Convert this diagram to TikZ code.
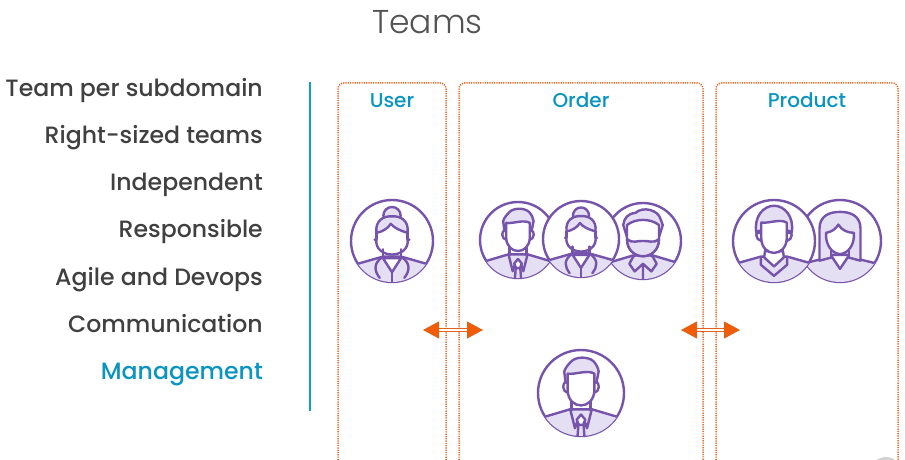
\documentclass[tikz,border=0pt]{standalone}
\usepackage{fontspec}
\setmainfont{Poppins Medium}
\newfontfamily\titlefont{Poppins Light}
\usetikzlibrary{arrows.meta}
\definecolor{tealblue}{HTML}{0A94C2}
\definecolor{barblue}{HTML}{08A0D2}
\definecolor{darktext}{HTML}{404040}
\definecolor{boxorange}{HTML}{E8682A}
\definecolor{arroworange}{HTML}{F25C05}
\definecolor{avline}{HTML}{7654AC}
\definecolor{avfill}{HTML}{E5DFF3}
\tikzset{
  topic/.style={anchor=base east,inner sep=0pt,text=darktext,font=\fontsize{23.6}{26}\selectfont},
  boxtitle/.style={anchor=base,inner sep=0pt,text=tealblue,font=\fontsize{20}{22}\selectfont},
  teambox/.style={draw=boxorange,line width=1.5pt,dash pattern=on 1.2pt off 1.1pt,rounded corners=6pt},
  linkarrow/.style={draw=arroworange!85!gray,line width=1.1pt,double=white,double distance=1.8pt,
    {Triangle[length=16pt,width=17pt,fill=arroworange]}-{Triangle[length=16pt,width=17pt,fill=arroworange]}},
  avstroke/.style={draw=avline,line width=2.4pt,line join=round,line cap=round},
  skin/.style={avstroke,fill=white},
  cloth/.style={avstroke,fill=avfill},
}
% outer ring, then a head on top of it
\newcommand{\avring}{\path[skin] (0,0) circle[radius=1];}
\newcommand{\avbody}[2]{\begin{scope}
    \clip (0,0) circle[radius=1];
    \path[cloth] (-1.1,#1) -- (-#2,.38) -- (#2,.38) -- (1.1,#1) -- (1.1,1.2) -- (-1.1,1.2) -- cycle;
  \end{scope}}
\newcommand{\avears}{
  \draw[avstroke] (-.32,-.25) .. controls (-.46,-.27) and (-.44,-.02) .. (-.3,0);
  \draw[avstroke] (.32,-.25) .. controls (.46,-.27) and (.44,-.02) .. (.3,0);}
\newcommand{\avneck}{\draw[avstroke] (-.22,.2) -- (-.22,.4) (.22,.2) -- (.22,.4);}
\newcommand{\avface}{
  \path[skin] (-.31,-.45) .. controls (-.15,-.42) and (.15,-.55) .. (.31,-.45) -- (.31,-.05)
    .. controls (.3,.17) and (.15,.29) .. (0,.29) .. controls (-.15,.29) and (-.3,.17) .. (-.31,-.05) -- cycle;}
\newcommand{\avhair}{
  \path[cloth] (-.36,-.25) -- (-.39,-.5) .. controls (-.36,-.6) and (-.28,-.68) .. (-.22,-.74)
    .. controls (-.12,-.84) and (.15,-.86) .. (.29,-.74)
    .. controls (.36,-.66) and (.4,-.58) .. (.41,-.5) -- (.36,-.25) -- cycle;}
\newcommand{\avtie}{
  \draw[avstroke] (-.25,.38) -- (-.14,.82) -- (-.07,.62) (.25,.38) -- (.14,.82) -- (.07,.62);
  \path[skin] (-.1,.62) -- (0,.5) -- (.1,.62) -- (.05,.74) -- (-.05,.74) -- cycle;
  \draw[avstroke] (-.06,.74) -- (-.08,1) (.06,.74) -- (.08,1);}
\newcommand{\avcollar}{
  \draw[avstroke] (-.22,.38) .. controls (-.48,.55) and (-.42,.75) .. (-.3,.9)
    (.22,.38) .. controls (.48,.55) and (.42,.75) .. (.3,.9);
  \path[skin] (-.22,.42) -- (0,.76) -- (.22,.42) -- cycle;
  \draw[avstroke] (0,.76) -- (0,1);}
\tikzset{
  suitman/.pic={
    \avring \avbody{.63}{.26} \avhair \avears \avneck \avface \avtie
  },
  bunwoman/.pic={
    \avring \avbody{.63}{.22}
    \path[cloth] (0,-.62) circle[radius=.21];
    \avneck
    \draw[avstroke] (-.38,-.05) .. controls (-.42,.2) and (-.2,.33) .. (0,.33)
      .. controls (.2,.33) and (.42,.2) .. (.38,-.05);
    \path[cloth] (-.38,-.2) .. controls (-.42,-.5) and (-.2,-.62) .. (0,-.6)
      .. controls (.2,-.62) and (.42,-.5) .. (.38,-.2) .. controls (.2,-.25) and (.05,-.32) .. (-.03,-.42)
      .. controls (-.1,-.3) and (-.25,-.22) .. (-.38,-.2) -- cycle;
    \draw[avstroke] (-.38,-.2) -- (-.38,-.05) (.38,-.2) -- (.38,-.05);
    \fill[avline] (-.41,-.03) circle[radius=.045] (.41,-.03) circle[radius=.045];
    \avcollar
  },
  beardman/.pic={
    \avring \avbody{.63}{.26}
    \path[cloth] (-.42,-.1) -- (-.52,-.42) .. controls (-.5,-.6) and (-.4,-.72) .. (-.2,-.74)
      .. controls (0,-.92) and (.4,-.82) .. (.46,-.58) -- (.52,-.42) -- (.42,-.1) -- cycle;
    \avears \avneck
    \path[skin] (-.42,-.42) .. controls (-.2,-.6) and (.2,-.6) .. (.42,-.42) -- (.42,-.05)
      .. controls (.42,.25) and (.2,.4) .. (0,.4) .. controls (-.2,.4) and (-.42,.25) .. (-.42,-.05) -- cycle;
    \path[cloth] (-.42,-.05) .. controls (-.42,.25) and (-.2,.4) .. (0,.4)
      .. controls (.2,.4) and (.42,.25) .. (.42,-.05)
      .. controls (.3,.08) and (.1,-.02) .. (0,0)
      .. controls (-.1,-.02) and (-.3,.08) .. (-.42,-.05) -- cycle;
    \draw[avstroke] (-.25,.4) -- (-.36,.6) -- (-.22,.8) -- (0,.6) -- (.22,.8) -- (.36,.6) -- (.25,.4)
      (0,.6) -- (0,1);
  },
  sweaterman/.pic={
    \avring \avbody{.6}{.32}
    \path[cloth] (-.43,-.2) .. controls (-.5,-.6) and (-.25,-.86) .. (0,-.86)
      .. controls (.25,-.86) and (.5,-.6) .. (.43,-.2) -- cycle;
    \draw[avstroke] (-.33,-.25) .. controls (-.48,-.27) and (-.46,-.02) .. (-.31,0);
    \draw[avstroke] (.33,-.25) .. controls (.48,-.27) and (.46,-.02) .. (.31,0);
    \avneck
    \path[skin] (-.24,.4) -- (0,.62) -- (.24,.4) -- (.22,.25) -- (-.22,.25) -- cycle;
    \avface
    \draw[avstroke] (-.32,.43) -- (-.32,.58) -- (0,.85) -- (.32,.58) -- (.32,.43);
  },
  longhairwoman/.pic={
    \avring \avbody{.6}{.2}
    \path[cloth] (-.5,.48) -- (-.5,-.3) .. controls (-.5,-.62) and (-.25,-.71) .. (0,-.71)
      .. controls (.25,-.71) and (.5,-.62) .. (.5,-.3) -- (.5,.48) -- (.2,.4) -- (-.2,.4) -- cycle;
    \avneck
    \path[skin] (-.34,-.2) .. controls (-.2,-.22) and (-.1,-.3) .. (-.04,-.4)
      .. controls (.05,-.25) and (.2,-.2) .. (.34,-.2)
      .. controls (.36,.1) and (.2,.3) .. (0,.32) .. controls (-.2,.3) and (-.36,.1) .. (-.34,-.2) -- cycle;
    \path[skin] (-.2,.38) -- (0,.68) -- (.2,.38) -- (.2,.34) -- (-.2,.34) -- cycle;
  },
}
\begin{document}
\begin{tikzpicture}[x=1pt,y=-1pt]
\useasboundingbox (0,0) rectangle (905,460);

\node[text=darktext!90!white] (title) at (427.5,22) {\titlefont\fontsize{33}{36}\selectfont Teams};

% left list
\node[topic] (subdomain) at (263,96) {Team per subdomain};
\node[topic] (sized) at (263,143) {Right-sized teams};
\node[topic] (independent) at (263,190) {Independent};
\node[topic] (responsible) at (263,237) {Responsible};
\node[topic] (agile) at (263,285) {Agile and Devops};
\node[topic] (communication) at (263,332) {Communication};
\node[topic,text=tealblue] (management) at (263,379) {Management};
\coordinate (barTop) at (310,82);
\coordinate (barEnd) at (310,411);
\draw[barblue,line width=2.4pt] (barTop) -- (barEnd);

% team boxes, open at the bottom
\draw[teambox] (338,460) -- (338,83) -- (446,83) -- (446,460);
\draw[teambox] (459,460) -- (459,83) -- (703,83) -- (703,460);
\draw[teambox] (716,460) -- (716,83) -- (898,83) -- (898,460);
\node[boxtitle] (user) at (392,107) {User};
\node[boxtitle] (order) at (581,107) {Order};
\node[boxtitle] (product) at (807,107) {Product};

% people
\pic[scale=41] (userlead) at (392,241) {bunwoman};
\pic[scale=38] (orderdev) at (518,240) {suitman};
\pic[scale=38] (orderops) at (643,241) {beardman};
\pic[scale=38] (orderqa) at (581,239) {bunwoman};
\pic[scale=43] (orderlead) at (581,393) {suitman};
\pic[scale=41] (productqa) at (840,241) {longhairwoman};
\pic[scale=41] (productdev) at (774,241) {sweaterman};

% links
\coordinate (userL) at (423,330);
\coordinate (orderL) at (483,330);
\coordinate (orderR) at (681,330);
\coordinate (productR) at (740,330);
\draw[linkarrow] (userL) -- (orderL);
\draw[linkarrow] (orderR) -- (productR);

% corner of the player control
\fill[black!18] (886,472) circle[radius=15];
\end{tikzpicture}
\end{document}
